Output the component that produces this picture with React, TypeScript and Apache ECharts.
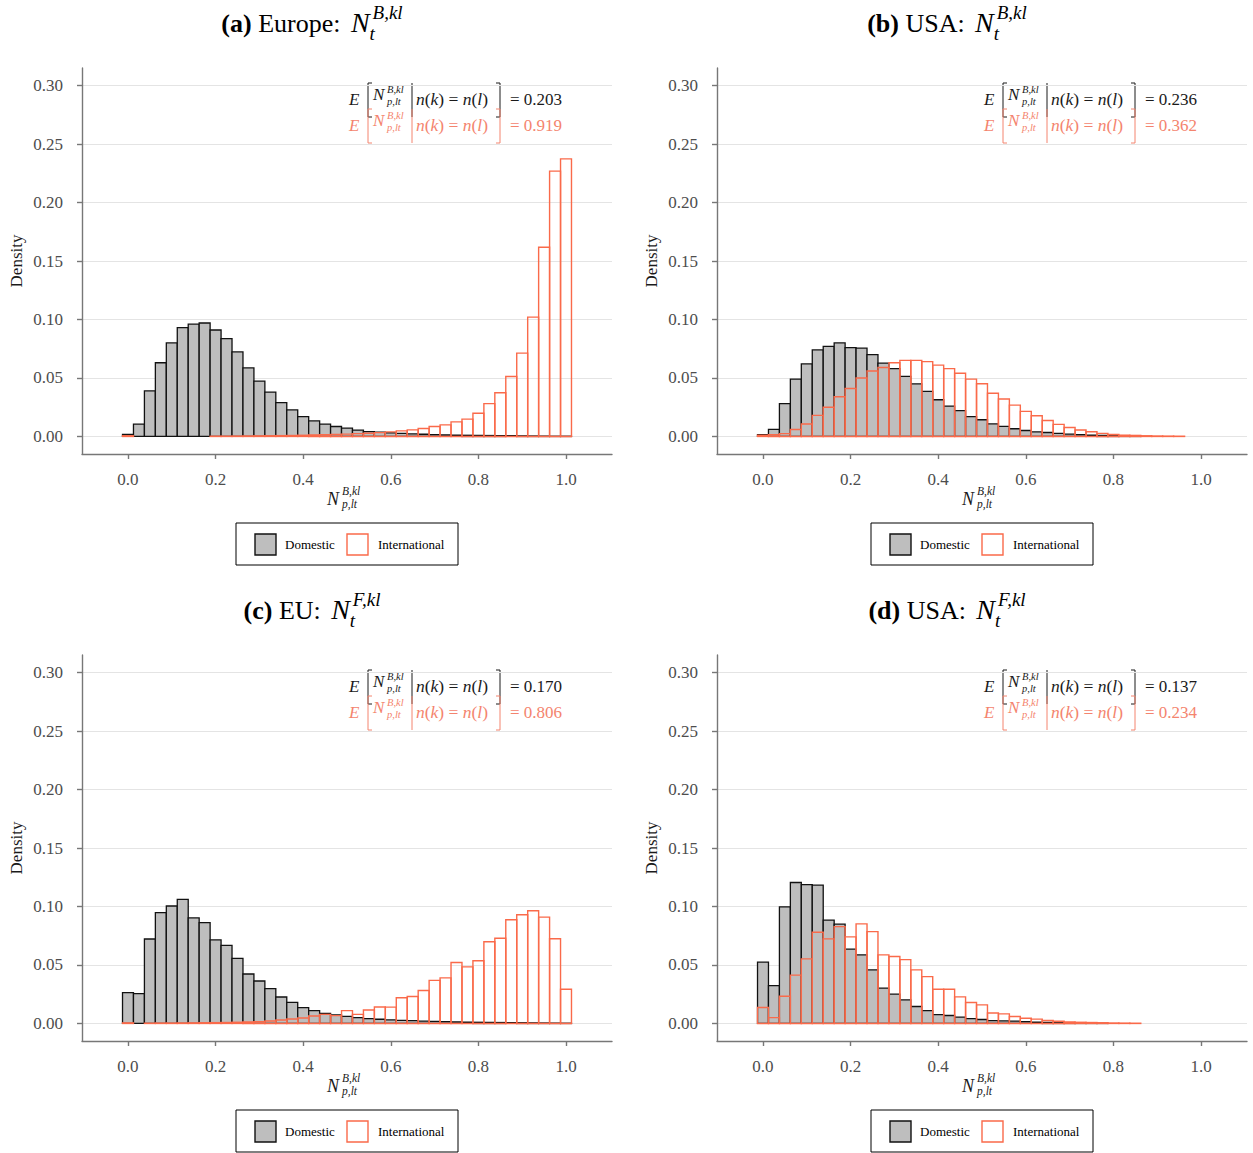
import React, { useEffect, useRef } from 'react';
import * as echarts from 'echarts';

// ---------------- data ----------------
const BIN_CENTERS = [
  0, 0.025, 0.05, 0.075, 0.1, 0.125, 0.15, 0.175, 0.2, 0.225,
  0.25, 0.275, 0.3, 0.325, 0.35, 0.375, 0.4, 0.425, 0.45, 0.475,
  0.5, 0.525, 0.55, 0.575, 0.6, 0.625, 0.65, 0.675, 0.7, 0.725,
  0.75, 0.775, 0.8, 0.825, 0.85, 0.875, 0.9, 0.925, 0.95, 0.975, 1.0,
];
const BIN_WIDTH = 0.025;
const X_TICKS = [0, 0.2, 0.4, 0.6, 0.8, 1.0];
const Y_TICKS = [0, 0.05, 0.1, 0.15, 0.2, 0.25, 0.3];
const X_MIN = -0.105;
const X_MAX = 1.105;
const Y_MIN = -0.015;
const Y_MAX = 0.315;

// (a) Europe, N^B
const EU_B_DOM = [0.0017, 0.0105, 0.039, 0.063, 0.08, 0.093, 0.096, 0.097, 0.091, 0.0837, 0.0723, 0.0586, 0.0473, 0.0379, 0.029, 0.0227, 0.017, 0.0133, 0.0105, 0.0085, 0.0071, 0.0054, 0.0042, 0.0037, 0.003, 0.0026, 0.0022, 0.0019, 0.0016, 0.0014, 0.0012, 0.001, 0.0009, 0.0008, 0.0007, 0.0006, 0.0005, 0.0004, 0.0003, 0.0002, 0.0002];
const EU_B_INT = [0.0006, 0, 0, 0, 0, 0, 0, 0, 0.0002, 0.0002, 0.0003, 0.0004, 0.0005, 0.0006, 0.0007, 0.0008, 0.001, 0.0012, 0.0014, 0.0017, 0.002, 0.0024, 0.0028, 0.0033, 0.0039, 0.0048, 0.0056, 0.0068, 0.0085, 0.0099, 0.0125, 0.0148, 0.0199, 0.0281, 0.0373, 0.0512, 0.0712, 0.102, 0.1618, 0.2268, 0.2373];
// (b) USA, N^B
const US_B_DOM = [0.0015, 0.006, 0.028, 0.049, 0.062, 0.074, 0.077, 0.08, 0.076, 0.0755, 0.07, 0.0627, 0.058, 0.0513, 0.045, 0.0385, 0.0314, 0.026, 0.022, 0.017, 0.0143, 0.0108, 0.0086, 0.0066, 0.0051, 0.004, 0.0034, 0.0026, 0.002, 0.0015, 0.0012, 0.0009, 0.0006, 0.0004, 0.0003, 0, 0, 0, 0, 0, 0];
const US_B_INT = [0.001, 0.0015, 0.0024, 0.006, 0.0106, 0.018, 0.025, 0.034, 0.041, 0.05, 0.056, 0.059, 0.063, 0.065, 0.065, 0.064, 0.061, 0.058, 0.054, 0.049, 0.045, 0.037, 0.032, 0.0268, 0.0214, 0.0177, 0.0137, 0.0103, 0.0077, 0.0055, 0.004, 0.0026, 0.0017, 0.0011, 0.0009, 0.0006, 0.0004, 0.0003, 0.0002, 0, 0];
// (c) EU, N^F
const EU_F_DOM = [0.0263, 0.0255, 0.0722, 0.0947, 0.1004, 0.1061, 0.0902, 0.0862, 0.0714, 0.0668, 0.0557, 0.0423, 0.0363, 0.0298, 0.0226, 0.0181, 0.0135, 0.011, 0.0087, 0.0073, 0.0061, 0.005, 0.0041, 0.0036, 0.003, 0.0027, 0.0024, 0.002, 0.0018, 0.0016, 0.0014, 0.0012, 0.001, 0.0009, 0.0008, 0.0007, 0.0006, 0.0005, 0.0004, 0.0003, 0.0002];
const EU_F_INT = [0.0005, 0, 0.0002, 0.0003, 0.0003, 0.0004, 0.0005, 0.0006, 0.0007, 0.0008, 0.001, 0.0012, 0.0015, 0.0021, 0.003, 0.0038, 0.0047, 0.0064, 0.0078, 0.0067, 0.011, 0.0078, 0.0115, 0.0141, 0.014, 0.022, 0.0231, 0.0282, 0.0368, 0.039, 0.0521, 0.0484, 0.0536, 0.0698, 0.0729, 0.0886, 0.0929, 0.0963, 0.0909, 0.0724, 0.0293];
// (d) USA, N^F
const US_F_DOM = [0.0524, 0.0324, 0.0997, 0.1205, 0.1187, 0.1182, 0.0883, 0.0849, 0.0635, 0.0586, 0.0458, 0.0302, 0.025, 0.0202, 0.0145, 0.011, 0.0076, 0.0068, 0.0054, 0.0042, 0.0034, 0.0025, 0.0022, 0.002, 0.0015, 0.0012, 0.0009, 0.0006, 0.0004, 0.0003, 0.0002, 0.0001, 0, 0, 0, 0, 0, 0, 0, 0, 0];
const US_F_INT = [0.0136, 0.005, 0.0233, 0.0413, 0.0552, 0.078, 0.0723, 0.0828, 0.074, 0.0851, 0.0785, 0.0586, 0.0572, 0.0546, 0.0458, 0.04, 0.0293, 0.0293, 0.0227, 0.0179, 0.0159, 0.009, 0.0082, 0.0059, 0.0045, 0.0037, 0.0025, 0.0019, 0.0013, 0.001, 0.0008, 0.0006, 0.0004, 0.0003, 0.0002, 0, 0, 0, 0, 0, 0];

const DOM_SERIES = [EU_B_DOM, US_B_DOM, EU_F_DOM, US_F_DOM];
const INT_SERIES = [EU_B_INT, US_B_INT, EU_F_INT, US_F_INT];
const SERIES_NAMES = ['Domestic', 'International'];
const PANEL_LABELS = ['(a)', '(b)', '(c)', '(d)'];
const PANEL_REGIONS = ['Europe:', 'USA:', 'EU:', 'USA:'];
const PANEL_SUPS = ['B,kl', 'B,kl', 'F,kl', 'F,kl'];
const MEAN_DOM = ['0.203', '0.236', '0.170', '0.137'];
const MEAN_INT = ['0.919', '0.362', '0.806', '0.234'];
const Y_NAME = 'Density';

// ---------------- layout / style ----------------
const PANEL_LEFT = [82, 717, 82, 717];
const PANEL_TOP = [68, 68, 655, 655];
const GRID_W = 530;
const GRID_H = 386;

const SERIF = '"Liberation Serif", "Times New Roman", Times, serif';
const DOM_FILL = '#bebebe';
const DOM_STROKE = '#111111';
const INT_STROKE = '#fa6a4a';
const NOTE_RED = '#f4846e';
const AXIS_GREY = '#777777';
const LABEL_GREY = '#4d4d4d';
const GRID_GREY = '#e4e4e4';

let measureCtx: CanvasRenderingContext2D | null = null;
function tw(text: string, size: number, style = 'normal', weight = 'normal'): number {
  if (!measureCtx) measureCtx = document.createElement('canvas').getContext('2d');
  if (!measureCtx) return text.length * size * 0.5;
  measureCtx.font = `${style} ${weight} ${size}px ${SERIF}`;
  return measureCtx.measureText(text).width;
}

function txt(x: number, baseline: number, text: string, size: number, opts: any = {}) {
  return {
    type: 'text',
    x,
    y: baseline - 0.34 * size,
    rotation: opts.rotation || 0,
    silent: true,
    style: {
      text,
      fontSize: size,
      fontFamily: SERIF,
      fontStyle: opts.italic ? 'italic' : 'normal',
      fontWeight: opts.bold ? 'bold' : 'normal',
      fill: opts.color || '#000000',
      align: opts.align || 'left',
      textAlign: opts.align || 'left',
      verticalAlign: 'middle',
      textVerticalAlign: 'middle',
      rich: opts.rich,
    },
  };
}

function buildGraphics(): any[] {
  const els: any[] = [];
  for (let i = 0; i < 4; i++) {
    const L = PANEL_LEFT[i];
    const T = PANEL_TOP[i];

    // ---- panel title ----
    const fs = 26, fsN = 28, fsS = 19;
    const w1 = tw(PANEL_LABELS[i], fs, 'normal', 'bold');
    const sp = tw(' ', fs);
    const w2 = tw(PANEL_REGIONS[i], fs);
    const wN = tw('N', fsN, 'italic');
    const wS = Math.max(tw(PANEL_SUPS[i], fsS, 'italic'), tw('t', fsS, 'italic'));
    const total = w1 + sp + w2 + sp * 1.6 + wN + 3 + wS;
    let x = L + 230 - total / 2;
    const base = T - 36;
    els.push(txt(x, base, PANEL_LABELS[i], fs, { bold: true }));
    x += w1 + sp;
    els.push(txt(x, base, PANEL_REGIONS[i], fs));
    x += w2 + sp * 1.6;
    els.push(txt(x, base, 'N', fsN, { italic: true }));
    x += wN + 3;
    els.push(txt(x, base - 13, PANEL_SUPS[i], fsS, { italic: true }));
    els.push(txt(x - 3, base + 8, 't', fsS, { italic: true }));

    // ---- conditional-mean annotations ----
    const lines = [
      { color: '#1a1a1a', mean: MEAN_DOM[i], dy: 0 },
      { color: NOTE_RED, mean: MEAN_INT[i], dy: 26 },
    ];
    for (const ln of lines) {
      const b = T + 37 + ln.dy;
      const c = ln.color;
      els.push(txt(L + 267, b, 'E', 17, { italic: true, color: c }));
      els.push({
        type: 'polyline', silent: true,
        shape: { points: [[L + 290, b - 22], [L + 286, b - 22], [L + 286, b + 12], [L + 290, b + 12]] },
        style: { stroke: c, lineWidth: 1, fill: 'none' },
      });
      els.push(txt(L + 291, b - 5, 'N', 17, { italic: true, color: c }));
      els.push(txt(L + 305, b - 12, 'B,kl', 10.5, { italic: true, color: c }));
      els.push(txt(L + 305, b + 0.5, 'p,lt', 10.5, { italic: true, color: c }));
      els.push({
        type: 'line', silent: true,
        shape: { x1: L + 330, y1: b - 22, x2: L + 330, y2: b + 12 },
        style: { stroke: c, lineWidth: 1 },
      });
      els.push(txt(L + 334, b, '{i|n}({i|k}) = {i|n}({i|l})', 17.5, {
        color: c,
        rich: { i: { fontStyle: 'italic', fontSize: 17.5, fontFamily: SERIF, fill: c, color: c } },
      }));
      els.push({
        type: 'polyline', silent: true,
        shape: { points: [[L + 414, b - 22], [L + 418, b - 22], [L + 418, b + 12], [L + 414, b + 12]] },
        style: { stroke: c, lineWidth: 1, fill: 'none' },
      });
      els.push(txt(L + 428, b, '= ' + ln.mean, 17, { color: c }));
    }

    // ---- y-axis name ----
    els.push({
      type: 'text', silent: true,
      x: L - 66, y: T + 193, rotation: Math.PI / 2,
      style: {
        text: Y_NAME, fontSize: 17, fontFamily: SERIF, fill: '#1a1a1a',
        align: 'center', textAlign: 'center', verticalAlign: 'middle', textVerticalAlign: 'middle',
      },
    });

    // ---- x-axis name ----
    els.push(txt(L + 245, T + 437, 'N', 18, { italic: true, color: '#1a1a1a' }));
    els.push(txt(L + 260, T + 427, 'B,kl', 11.5, { italic: true, color: '#1a1a1a' }));
    els.push(txt(L + 260, T + 440, 'p,lt', 11.5, { italic: true, color: '#1a1a1a' }));

    // ---- legend ----
    const bx = L + 154, by = T + 455;
    els.push({
      type: 'rect', silent: true,
      shape: { x: bx, y: by, width: 222, height: 42 },
      style: { fill: '#ffffff', stroke: '#000000', lineWidth: 1 },
    });
    els.push({
      type: 'rect', silent: true,
      shape: { x: bx + 19, y: by + 11, width: 21, height: 21 },
      style: { fill: DOM_FILL, stroke: DOM_STROKE, lineWidth: 1.4 },
    });
    els.push(txt(bx + 49, by + 26, SERIES_NAMES[0], 13));
    els.push({
      type: 'rect', silent: true,
      shape: { x: bx + 111, y: by + 11, width: 21, height: 21 },
      style: { fill: '#ffffff', stroke: INT_STROKE, lineWidth: 1.4 },
    });
    els.push(txt(bx + 142, by + 26, SERIES_NAMES[1], 13));
  }
  return els;
}

function histSeries(name: string, values: number[], idx: number, kind: 'dom' | 'int') {
  return {
    type: 'custom',
    name,
    xAxisIndex: idx,
    yAxisIndex: idx,
    silent: true,
    data: BIN_CENTERS.map((c, i) => [c, values[i]]),
    encode: { x: 0, y: 1 },
    renderItem: (_params: any, api: any) => {
      const c = api.value(0);
      const v = api.value(1);
      if (!(v > 0)) return { type: 'group', children: [] };
      const tl = api.coord([c - BIN_WIDTH / 2, v]);
      const br = api.coord([c + BIN_WIDTH / 2, 0]);
      return {
        type: 'rect',
        shape: { x: tl[0], y: tl[1], width: br[0] - tl[0], height: br[1] - tl[1] },
        style: kind === 'dom'
          ? { fill: DOM_FILL, stroke: DOM_STROKE, lineWidth: 1.3 }
          : { fill: 'none', stroke: INT_STROKE, lineWidth: 1.4 },
      };
    },
  };
}

function buildOption(): any {
  const idx = [0, 1, 2, 3];
  return {
    animation: false,
    backgroundColor: '#ffffff',
    grid: idx.map((i) => ({ left: PANEL_LEFT[i], top: PANEL_TOP[i], width: GRID_W, height: GRID_H })),
    xAxis: idx.map((i) => ({
      type: 'value',
      gridIndex: i,
      min: X_MIN,
      max: X_MAX,
      axisLine: { show: true, onZero: false, lineStyle: { color: AXIS_GREY, width: 1.4 } },
      axisTick: { show: true, length: 5, customValues: X_TICKS, lineStyle: { color: AXIS_GREY, width: 1.4 } },
      axisLabel: {
        customValues: X_TICKS,
        formatter: (v: number) => v.toFixed(1),
        color: LABEL_GREY, fontSize: 17, fontFamily: SERIF, margin: 17,
      },
      splitLine: { show: false },
    })),
    yAxis: idx.map((i) => ({
      type: 'value',
      gridIndex: i,
      min: Y_MIN,
      max: Y_MAX,
      axisLine: { show: true, onZero: false, lineStyle: { color: AXIS_GREY, width: 1.4 } },
      axisTick: { show: true, length: 5, customValues: Y_TICKS, lineStyle: { color: AXIS_GREY, width: 1.4 } },
      axisLabel: {
        customValues: Y_TICKS,
        formatter: (v: number) => v.toFixed(2),
        color: LABEL_GREY, fontSize: 17, fontFamily: SERIF, margin: 19,
      },
      splitLine: { show: true, lineStyle: { color: GRID_GREY, width: 1 } },
    })),
    series: idx.flatMap((i) => [
      histSeries(SERIES_NAMES[0], DOM_SERIES[i], i, 'dom'),
      histSeries(SERIES_NAMES[1], INT_SERIES[i], i, 'int'),
    ]),
    graphic: { elements: buildGraphics() },
  };
}

export default function App() {
  const ref = useRef<HTMLDivElement>(null);
  useEffect(() => {
    if (!ref.current) return;
    const chart = echarts.init(ref.current, undefined, { renderer: 'svg', width: 1253, height: 1153 });
    chart.setOption(buildOption());
    return () => chart.dispose();
  }, []);
  return (
    <div
      ref={ref}
      style={{ position: 'absolute', left: 0, top: 0, width: 1253, height: 1153, background: '#ffffff' }}
    />
  );
}
